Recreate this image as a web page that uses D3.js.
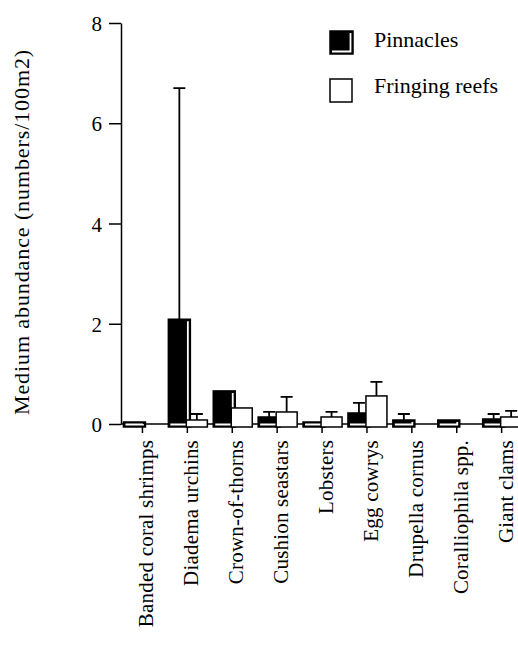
<!DOCTYPE html>
<meta charset="utf-8">
<head>
<style>
body { margin: 0; background: #fff; }
.axis path, .axis line { stroke: #000; stroke-width: 1.5px; }
</style>
</head>
<body>
<svg></svg>
<script src="https://d3js.org/d3.v7.min.js"></script>
<script>
// data
var categories = ["Banded coral shrimps", "Diadema urchins", "Crown-of-thorns", "Cushion seastars",
  "Lobsters", "Egg cowrys", "Drupella cornus", "Coralliophila spp.", "Giant clams"];
var seriesNames = ["Pinnacles", "Fringing reefs"];
var pinnacles = [0.04, 2.09, 0.66, 0.14, 0.04, 0.22, 0.08, 0.08, 0.10];
var pinnaclesErrTop = [null, 6.7, null, 0.24, null, 0.42, 0.20, null, 0.20];
var fringing = [0, 0.08, 0.32, 0.24, 0.14, 0.56, 0, 0, 0.14];
var fringingErrTop = [null, 0.20, null, 0.54, 0.24, 0.84, null, null, 0.26];
var yTicks = [0, 2, 4, 6, 8];

var FONT = "'Liberation Serif', 'DejaVu Serif', 'Times New Roman', serif";
var W = 518, H = 646;
var left = 120, zeroY = 424, topY = 23;

var svg = d3.select('svg').attr('width', W).attr('height', H).style('display', 'block');

var x = d3.scaleBand().domain(categories).range([left, left + 44.9 * categories.length]).padding(0);
var y = d3.scaleLinear().domain([0, 8]).range([zeroY, topY]);
var baseY = zeroY + 3; // bars sit slightly below the axis line

function center(c) { return x(c) + x.bandwidth() / 2; }

// y axis
var yAxis = svg.append('g').attr('class', 'axis')
  .attr('transform', 'translate(' + (left + 1) + ',0)')
  .call(d3.axisLeft(y).tickValues(yTicks).tickSize(12).tickPadding(7).tickSizeOuter(0));
yAxis.selectAll('text').attr('dy', '0.36em')
  .style('font-family', FONT).style('font-size', '21px').attr('fill', '#000');

// x axis line + ticks
var xAxis = svg.append('g').attr('class', 'axis')
  .attr('transform', 'translate(0,' + zeroY + ')')
  .call(d3.axisBottom(x).tickSize(9).tickSizeOuter(0).tickFormat(''));
xAxis.select('.domain').attr('d', 'M' + (left + 1) + ',0H' + W);

// category labels, rotated
svg.append('g').selectAll('text')
  .data(categories)
  .enter().append('text')
  .attr('transform', function (d) { return 'translate(' + (center(d) + 11) + ',' + 440 + ') rotate(-90)'; })
  .attr('text-anchor', 'end')
  .style('font-family', FONT)
  .style('font-size', '21px')
  .style('letter-spacing', '0.2px')
  .text(function (d) { return d; });

// y title
svg.append('text')
  .attr('transform', 'translate(29,232) rotate(-90)')
  .attr('text-anchor', 'middle')
  .style('font-family', FONT)
  .style('font-size', '22px')
  .style('letter-spacing', '0.9px')
  .text('Medium abundance (numbers/100m2)');

var bars = svg.append('g');

// Pinnacles: black with light inner edge
function blackBar(g, bx, by, bw, bh) {
  g.append('rect').attr('x', bx).attr('y', by).attr('width', bw).attr('height', bh)
    .attr('fill', '#000').attr('stroke', '#000').attr('stroke-width', 1.5);
  var rx = bx + bw - 2.5, ty = Math.min(by + 2, by + bh - 2.5);
  g.append('path')
    .attr('d', 'M' + rx + ',' + ty + 'V' + (by + bh - 2.5) + 'H' + (bx + 2))
    .attr('fill', 'none').attr('stroke', '#fff').attr('stroke-width', 1.8);
}

function errBar(g, cx, top, v) {
  if (top == null) return;
  g.append('path')
    .attr('d', 'M' + cx + ',' + y(v) + 'V' + y(top) + 'M' + (cx - 6) + ',' + y(top) + 'H' + (cx + 6))
    .attr('fill', 'none').attr('stroke', '#000').attr('stroke-width', 1.8);
}

categories.forEach(function (c, i) {
  var cx = center(c);
  // black bar
  var bx = cx - 19, bw = 22;
  blackBar(bars, bx, y(pinnacles[i]), bw, baseY - y(pinnacles[i]));
  errBar(bars, bx + bw / 2, pinnaclesErrTop[i], pinnacles[i]);
  // white bar
  if (fringing[i] > 0) {
    var wx = cx - 1, ww = 21;
    bars.append('rect').attr('x', wx).attr('y', y(fringing[i])).attr('width', ww)
      .attr('height', baseY - y(fringing[i]))
      .attr('fill', '#fff').attr('stroke', '#000').attr('stroke-width', 1.5);
    errBar(bars, wx + ww / 2, fringingErrTop[i], fringing[i]);
  }
});

// legend
var legend = svg.append('g');
blackBar(legend, 330, 31, 23, 23);
legend.append('rect').attr('x', 330).attr('y', 79).attr('width', 22).attr('height', 23)
  .attr('fill', '#fff').attr('stroke', '#000').attr('stroke-width', 1.5);
legend.selectAll('text.lg')
  .data(seriesNames)
  .enter().append('text')
  .attr('class', 'lg')
  .attr('x', 374)
  .attr('y', function (d, i) { return 47 + i * 46; })
  .style('font-family', FONT)
  .style('font-size', '22px')
  .text(function (d) { return d; });
</script>
</body>
</html>
